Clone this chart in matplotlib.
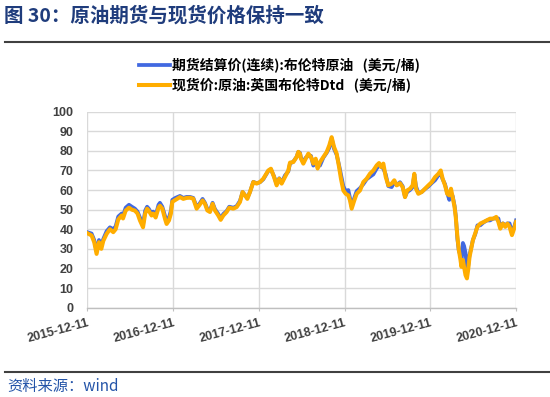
import matplotlib
matplotlib.use("Agg")
import matplotlib.pyplot as plt
import matplotlib.dates as mdates
from matplotlib.lines import Line2D
import numpy as np
import pandas as pd

plt.rcParams['font.family'] = ['Noto Sans CJK SC', 'DejaVu Sans']

dates = [
    "2015-12-11", "2015-12-29", "2016-01-09", "2016-01-19", "2016-01-29", "2016-02-08",
    "2016-02-16", "2016-03-01", "2016-03-15", "2016-03-29", "2016-04-08", "2016-04-19",
    "2016-05-03", "2016-05-09", "2016-05-20", "2016-06-03", "2016-06-15", "2016-06-28",
    "2016-07-09", "2016-07-19", "2016-08-01", "2016-08-10", "2016-08-18", "2016-08-25",
    "2016-09-06", "2016-09-13", "2016-09-23", "2016-10-05", "2016-10-11", "2016-10-21",
    "2016-11-02", "2016-11-08", "2016-11-18", "2016-11-26", "2016-12-02", "2016-12-15",
    "2017-01-03", "2017-01-17", "2017-01-31", "2017-02-14", "2017-02-28", "2017-03-14",
    "2017-03-25", "2017-04-08", "2017-04-18", "2017-04-28", "2017-05-09", "2017-05-20",
    "2017-05-30", "2017-06-13", "2017-06-23", "2017-07-04", "2017-07-18", "2017-07-29",
    "2017-08-15", "2017-08-29", "2017-09-12", "2017-09-23", "2017-10-03", "2017-10-13",
    "2017-10-24", "2017-11-07", "2017-11-21", "2017-12-05", "2017-12-19", "2018-01-09",
    "2018-01-20", "2018-02-02", "2018-02-13", "2018-02-24", "2018-03-06", "2018-03-20",
    "2018-04-03", "2018-04-10", "2018-04-24", "2018-05-08", "2018-05-15", "2018-05-22",
    "2018-05-26", "2018-06-05", "2018-06-15", "2018-06-26", "2018-07-07", "2018-07-17",
    "2018-07-27", "2018-08-04", "2018-08-14", "2018-08-28", "2018-09-11", "2018-09-22",
    "2018-10-02", "2018-10-12", "2018-10-23", "2018-11-02", "2018-11-10", "2018-11-20",
    "2018-11-30", "2018-12-11", "2018-12-18", "2018-12-25", "2019-01-05", "2019-01-15",
    "2019-01-29", "2019-02-12", "2019-02-26", "2019-03-12", "2019-03-26", "2019-04-09",
    "2019-04-19", "2019-04-27", "2019-05-07", "2019-05-17", "2019-05-28", "2019-06-11",
    "2019-06-22", "2019-07-02", "2019-07-16", "2019-07-27", "2019-08-06", "2019-08-15",
    "2019-08-27", "2019-09-07", "2019-09-14", "2019-09-21", "2019-10-01", "2019-10-15",
    "2019-10-29", "2019-11-12", "2019-11-26", "2019-12-10", "2019-12-24", "2020-01-03",
    "2020-01-11", "2020-01-21", "2020-01-30", "2020-02-08", "2020-02-15", "2020-02-22",
    "2020-03-01", "2020-03-06", "2020-03-13", "2020-03-19", "2020-03-25", "2020-03-30",
    "2020-04-05", "2020-04-10", "2020-04-16", "2020-04-22", "2020-04-27", "2020-05-03",
    "2020-05-10", "2020-05-17", "2020-05-27", "2020-06-05", "2020-06-17", "2020-07-01",
    "2020-07-15", "2020-07-28", "2020-08-11", "2020-08-23", "2020-09-01", "2020-09-09",
    "2020-09-20", "2020-09-30", "2020-10-09", "2020-10-18", "2020-10-28", "2020-11-06",
    "2020-11-14",
]

spot = [
    38.0, 36.8, 33.4, 27.4, 33.4, 30.0,
    34.0, 37.6, 40.0, 38.5, 40.0, 45.0,
    47.0, 45.5, 49.5, 51.0, 50.0, 49.5,
    48.0, 44.5, 41.0, 48.0, 50.5, 49.5,
    47.0, 48.0, 46.0, 51.0, 52.0, 50.5,
    45.0, 42.7, 44.5, 48.0, 54.0, 55.0,
    56.4, 55.5, 56.0, 56.1, 55.6, 50.5,
    52.2, 54.7, 53.0, 49.6, 48.8, 53.0,
    49.6, 47.0, 44.8, 47.0, 48.8, 51.0,
    50.5, 51.3, 53.9, 59.0, 57.3, 55.5,
    59.0, 64.1, 63.3, 64.1, 65.8, 70.0,
    70.9, 66.7, 62.4, 65.8, 63.3, 66.7,
    70.0, 74.0, 74.3, 76.9, 79.5, 78.6,
    76.0, 73.5, 76.0, 78.6, 76.9, 73.5,
    76.0, 71.0, 74.3, 76.9, 79.4, 82.8,
    87.0, 82.0, 78.6, 71.8, 65.8, 59.8,
    58.1, 57.3, 54.7, 50.5, 54.7, 58.1,
    59.8, 64.1, 65.8, 68.4, 70.0, 72.6,
    73.8, 71.8, 73.5, 66.7, 62.4, 63.3,
    65.0, 62.4, 63.5, 61.5, 56.4, 59.8,
    60.7, 62.4, 68.3, 60.7, 58.1, 59.0,
    60.7, 62.4, 64.0, 66.6, 68.3, 70.0,
    65.8, 62.4, 58.1, 57.3, 60.7, 56.4,
    51.4, 46.3, 36.1, 29.3, 25.1, 20.8,
    24.2, 20.8, 16.6, 14.9, 19.2, 25.9,
    30.2, 34.4, 38.0, 41.2, 42.9, 43.7,
    44.6, 45.4, 45.4, 46.3, 43.7, 40.3,
    42.9, 41.2, 42.9, 41.2, 37.0, 40.3,
    43.7,
]

futures = [
    38.5, 37.8, 34.5, 28.8, 34.5, 31.5,
    35.0, 39.0, 41.0, 40.0, 41.5, 46.5,
    48.0, 47.0, 51.0, 52.5, 51.5, 50.5,
    49.0, 46.0, 42.5, 49.5, 51.5, 50.5,
    48.0, 49.0, 47.0, 52.5, 53.5, 51.5,
    46.5, 44.5, 46.0, 49.5, 55.0, 56.0,
    57.0, 56.0, 56.5, 56.5, 56.0, 51.5,
    52.8, 55.5, 53.5, 50.3, 49.5, 53.5,
    50.3, 47.8, 45.5, 47.8, 49.3, 51.5,
    51.0, 51.8, 54.5, 59.0, 57.5, 56.0,
    59.0, 64.2, 63.5, 64.0, 65.5, 69.8,
    70.5, 67.0, 63.0, 66.0, 63.8, 67.5,
    69.5, 73.5, 74.5, 77.0, 79.5, 79.0,
    76.5, 74.5, 76.5, 77.5, 77.5, 72.5,
    74.5, 72.5, 72.5, 76.5, 79.0, 81.5,
    86.5, 81.0, 78.0, 72.8, 68.0, 62.0,
    59.5, 60.0, 56.0, 51.5, 56.0, 59.5,
    61.0, 63.0, 65.5, 66.8, 68.0, 71.0,
    72.5, 72.0, 71.0, 68.0, 62.0, 61.5,
    64.0, 62.5, 64.0, 62.0, 56.5, 59.0,
    60.0, 61.5, 68.0, 62.0, 58.5, 59.0,
    60.5, 61.8, 63.5, 65.0, 67.5, 68.5,
    65.5, 63.0, 58.5, 55.0, 58.0, 57.0,
    52.0, 47.0, 35.0, 29.0, 27.0, 22.8,
    33.0, 31.5, 28.0, 20.0, 21.0, 27.0,
    30.5, 34.5, 37.5, 42.0, 42.0, 43.5,
    44.5, 44.5, 45.5, 45.5, 45.5, 41.0,
    43.0, 42.0, 43.0, 43.0, 38.5, 41.0,
    44.5,
]

tick_labels = ["2015-12-11", "2016-12-11", "2017-12-11",
               "2018-12-11", "2019-12-11", "2020-12-11"]
y_ticks = [0, 10, 20, 30, 40, 50, 60, 70, 80, 90, 100]

label_fut = "期货结算价(连续):布伦特原油   (美元/桶)"
label_spot = "现货价:原油:英国布伦特Dtd   (美元/桶)"
title = "图 30：原油期货与现货价格保持一致"
source = "资料来源：wind"

blue = "#4169E1"
orange = "#FFAD00"
grid_c = "#D9D9D9"
text_c = "#404040"
num_font = ["Liberation Sans", "DejaVu Sans"]

x = pd.to_datetime(dates)

fig = plt.figure(figsize=(5.5, 3.97), dpi=100)
ax = fig.add_axes([87.3 / 550, 89.4 / 397, (516 - 87.3) / 550, (307.6 - 111.7) / 397])

ax.plot(x, futures, color=blue, lw=2.7, label=label_fut, solid_joinstyle="round")
ax.plot(x, spot, color=orange, lw=2.9, label=label_spot, solid_joinstyle="round")

x0, x1 = mdates.date2num(x[0]), mdates.date2num(x[-1])
ax.set_xlim(x0, x1)
ax.set_ylim(0, 100)
ax.set_xticks(np.linspace(x0, x1, len(tick_labels)))
ax.set_xticklabels(tick_labels, rotation=15, ha="right", rotation_mode="anchor",
                   fontsize=9, fontweight="bold", color=text_c, family=num_font)
ax.set_yticks(y_ticks)
ax.set_yticklabels([str(v) for v in y_ticks], fontsize=9, fontweight="bold",
                   color=text_c, family=num_font)
ax.tick_params(axis="y", length=0, pad=10)
ax.tick_params(axis="x", length=2.5, color="#BFBFBF", pad=4.5)
ax.grid(True, color=grid_c, lw=1)
ax.set_axisbelow(True)
for s in ["top", "right", "left"]:
    ax.spines[s].set_visible(False)
ax.spines["bottom"].set_color("#BFBFBF")
ax.spines["bottom"].set_linewidth(1)

fig.legend(loc="upper left", bbox_to_anchor=(139 / 550, 1 - 58 / 397), frameon=False,
           borderpad=0, borderaxespad=0, handlelength=2.2, handletextpad=0.2,
           labelspacing=0.3, prop={"size": 10, "weight": "bold"})

fig.text(0.008, 1 - 16 / 397, title, fontsize=14, fontweight="bold",
         color="#1F3C7C", va="center", ha="left")
fig.add_artist(Line2D([5 / 550, 1.0], [1 - 42 / 397, 1 - 42 / 397], color="#404040", lw=1.5))
fig.add_artist(Line2D([5 / 550, 1.0], [1 - 371.5 / 397, 1 - 371.5 / 397], color="#404040", lw=1.5))
fig.text(0.014, 1 - 386 / 397, source, fontsize=11, style="italic",
         color="#2454A8", va="center", ha="left")

fig.savefig("out.png", dpi=100)
